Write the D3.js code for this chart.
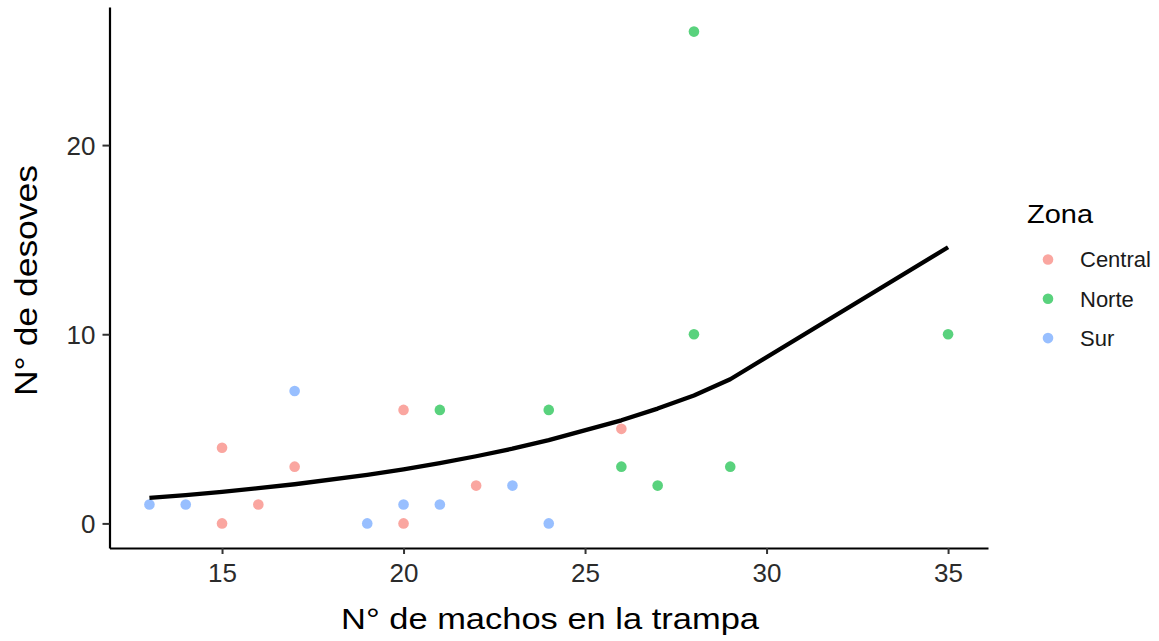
<!DOCTYPE html>
<html>
<head>
<meta charset="utf-8">
<script src="https://cdn.jsdelivr.net/npm/d3@7"></script>
<style>
  body { margin: 0; background: #fff; }
  svg { display: block; font-family: "Liberation Sans", Arial, sans-serif; }
</style>
</head>
<body>
<svg id="chart" width="1159" height="641"></svg>
<script>
// Data
const zonas = ["Central", "Norte", "Sur"];
const colors = ["#F8766D", "#00BA38", "#619CFF"];
const centralX = [15, 15, 16, 17, 20, 20, 22, 26];
const centralY = [4, 0, 1, 3, 6, 0, 2, 5];
const norteX = [21, 24, 26, 27, 28, 28, 29, 35];
const norteY = [6, 6, 3, 2, 26, 10, 3, 10];
const surX = [13, 14, 17, 19, 20, 21, 23, 24];
const surY = [1, 1, 7, 0, 1, 1, 2, 0];
// fitted line
const fitX = [13, 14, 15, 16, 17, 19, 20, 21, 22, 23, 24, 26, 27, 28, 29, 35];
const fitY = [1.35, 1.50, 1.67, 1.86, 2.07, 2.57, 2.86, 3.19, 3.55, 3.95, 4.40, 5.45, 6.07, 6.76, 7.62, 14.6];
const xTicks = [15, 20, 25, 30, 35];
const yTicks = [0, 10, 20];

const svg = d3.select("#chart");
const L = 109.5, R = 988, T = 7, B = 548;
const x = d3.scaleLinear().domain([11.9, 36.1]).range([L, R]);
const y = d3.scaleLinear().domain([-1.3, 27.3]).range([B, T]);

const points = [];
[[centralX, centralY], [norteX, norteY], [surX, surY]].forEach((s, i) => {
  s[0].forEach((v, j) => points.push({x: v, y: s[1][j], z: zonas[i]}));
});
const color = d3.scaleOrdinal().domain(zonas).range(colors);

svg.append("g").selectAll("circle").data(points).join("circle")
  .attr("cx", d => x(d.x)).attr("cy", d => y(d.y)).attr("r", 5.3)
  .attr("fill", d => color(d.z)).attr("fill-opacity", 0.65);

const fit = fitX.map((v, i) => [v, fitY[i]]);
svg.append("path").datum(fit)
  .attr("d", d3.line().x(d => x(d[0])).y(d => y(d[1])))
  .attr("fill", "none").attr("stroke", "#000").attr("stroke-width", 4.3)
  .attr("stroke-linejoin", "round");

// Axes
const xAxis = svg.append("g").attr("transform", `translate(0,${B})`)
  .call(d3.axisBottom(x).tickValues(xTicks).tickSize(6).tickPadding(10).tickSizeOuter(0));
const yAxis = svg.append("g").attr("transform", `translate(${L},0)`)
  .call(d3.axisLeft(y).tickValues(yTicks).tickSize(7).tickPadding(7).tickSizeOuter(0));
[xAxis, yAxis].forEach(a => {
  a.select(".domain").attr("stroke", "#000").attr("stroke-width", 2.2);
  a.selectAll(".tick line").attr("stroke", "#333").attr("stroke-width", 2);
  a.selectAll(".tick text").attr("fill", "#2b2b2b").style("font-size", "26px")
    .style("font-family", "'Liberation Sans', Arial, sans-serif");
});
yAxis.selectAll(".tick text").attr("dy", "0.36em");

// Axis titles
svg.append("text").attr("x", 550).attr("y", 629).attr("text-anchor", "middle")
  .style("font-size", "30px").attr("fill", "#000")
  .attr("textLength", 418).attr("lengthAdjust", "spacingAndGlyphs")
  .text("N° de machos en la trampa");
svg.append("text").attr("transform", `translate(37,280.5) rotate(-90)`)
  .attr("text-anchor", "middle").style("font-size", "31px").attr("fill", "#000")
  .attr("textLength", 231).attr("lengthAdjust", "spacingAndGlyphs")
  .text("N° de desoves");

// Legend
svg.append("text").attr("x", 1027).attr("y", 223).style("font-size", "26px").attr("fill", "#000")
  .attr("textLength", 66).attr("lengthAdjust", "spacingAndGlyphs").text("Zona");
const lg = svg.append("g").selectAll("g").data(zonas).join("g")
  .attr("transform", (d, i) => `translate(0,${259.5 + i * 39.3})`);
lg.append("circle").attr("cx", 1048).attr("cy", 0).attr("r", 5.3)
  .attr("fill", d => color(d)).attr("fill-opacity", 0.65);
lg.append("text").attr("x", 1080).attr("y", 0).attr("dy", "0.35em")
  .style("font-size", "22px").attr("fill", "#1a1a1a").text(d => d);
</script>
</body>
</html>
